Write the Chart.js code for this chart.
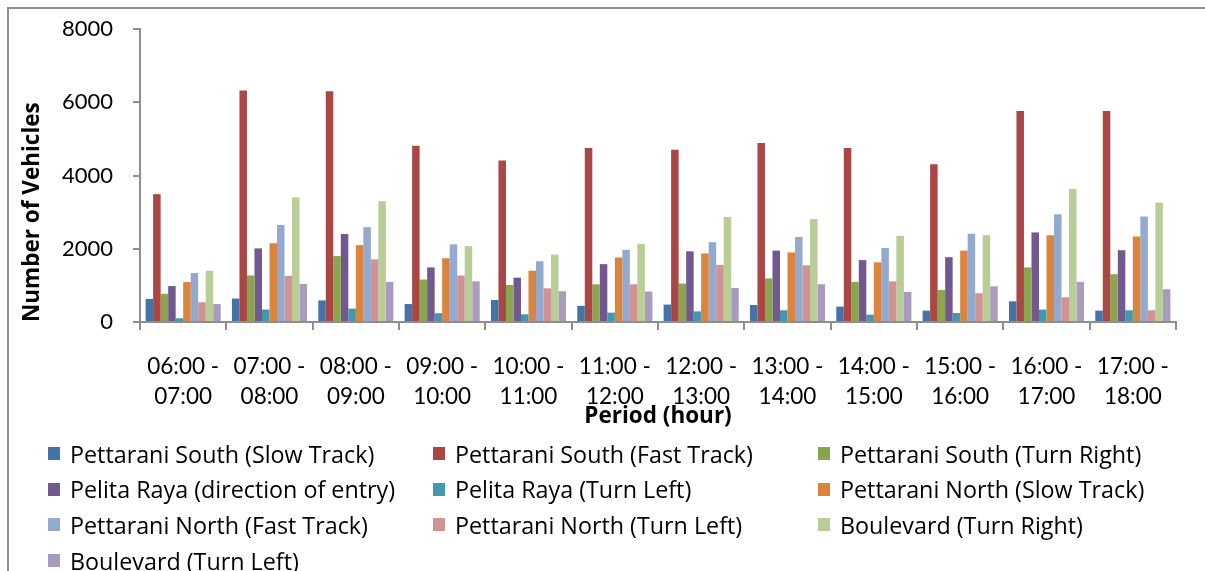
<!DOCTYPE html>
<html>
<head>
<meta charset="utf-8">
<script src="https://cdn.jsdelivr.net/npm/chart.js@4.4.1/dist/chart.umd.min.js"></script>
<style>
  html, body { margin: 0; padding: 0; background: #fff; }
  #wrap { position: relative; width: 1205px; height: 571px; overflow: hidden; }
  #frame { position: absolute; left: 7px; top: 7px; width: 1300px; height: 700px;
           border-top: 2px solid #8e8e8e; border-left: 2px solid #8e8e8e; }
  #chart { position: absolute; left: 0; top: 0; }
  #legend { position: absolute; left: 48px; top: 436px; width: 1150px;
            display: grid; grid-template-columns: 385px 385px 385px; row-gap: 0;
            font-family: "Open Sans", Lato, sans-serif; font-size: 23.3px; color: #000; }
  .item { display: flex; align-items: center; height: 35.6px; white-space: nowrap; }
  .box { width: 12px; height: 13px; margin-right: 10px; flex: none; }
</style>
</head>
<body>
<div id="wrap">
  <div id="frame"></div>
  <canvas id="chart" width="1205" height="571"></canvas>
  <div id="legend"></div>
</div>
<script>
// ---- data ----
const periods = [
  ["06:00 -", "07:00"], ["07:00 -", "08:00"], ["08:00 -", "09:00"], ["09:00 -", "10:00"],
  ["10:00 -", "11:00"], ["11:00 -", "12:00"], ["12:00 -", "13:00"], ["13:00 -", "14:00"],
  ["14:00 -", "15:00"], ["15:00 -", "16:00"], ["16:00 -", "17:00"], ["17:00 -", "18:00"]
];
const seriesNames = [
  "Pettarani South (Slow Track)", "Pettarani South (Fast Track)", "Pettarani South (Turn Right)",
  "Pelita Raya (direction of entry)", "Pelita Raya (Turn Left)", "Pettarani North (Slow Track)",
  "Pettarani North (Fast Track)", "Pettarani North (Turn Left)", "Boulevard (Turn Right)",
  "Boulevard (Turn Left)"
];
const southSlow  = [630, 640, 590, 490, 600, 440, 475, 465, 420, 310, 565, 310];
const southFast  = [3490, 6320, 6300, 4810, 4410, 4750, 4700, 4890, 4750, 4310, 5760, 5760];
const southRight = [770, 1270, 1800, 1160, 1010, 1030, 1050, 1190, 1095, 875, 1490, 1305];
const pelitaEntry = [980, 2010, 2400, 1490, 1210, 1580, 1930, 1950, 1690, 1770, 2445, 1960];
const pelitaLeft = [100, 340, 365, 240, 210, 255, 290, 320, 200, 245, 340, 320];
const northSlow  = [1090, 2150, 2100, 1740, 1400, 1760, 1870, 1900, 1630, 1950, 2370, 2335];
const northFast  = [1340, 2650, 2590, 2120, 1660, 1970, 2180, 2320, 2020, 2410, 2940, 2880];
const northLeft  = [540, 1260, 1710, 1270, 920, 1030, 1560, 1550, 1110, 785, 675, 320];
const boulRight  = [1400, 3400, 3300, 2070, 1840, 2135, 2870, 2810, 2350, 2370, 3630, 3260];
const boulLeft   = [490, 1040, 1095, 1110, 840, 830, 930, 1030, 820, 975, 1095, 895];
const yTicks = [0, 2000, 4000, 6000, 8000];

const seriesData = [southSlow, southFast, southRight, pelitaEntry, pelitaLeft,
                    northSlow, northFast, northLeft, boulRight, boulLeft];
const colors = ["#4572A7", "#AA4643", "#89A54E", "#71588F", "#4198AF",
                "#DB843D", "#93A9CF", "#D19392", "#B9CD96", "#A99BBD"];

const font = "Lato, 'Open Sans', sans-serif";
const titleFont = "'Open Sans', Lato, sans-serif";
const axisGray = "#8e8e8e";

const datasets = seriesNames.map((name, i) => ({
  label: name,
  data: seriesData[i],
  backgroundColor: colors[i],
  borderWidth: 0,
  categoryPercentage: 0.87,
  barPercentage: 1.0
}));

new Chart(document.getElementById("chart"), {
  type: "bar",
  data: { labels: periods, datasets },
  options: {
    responsive: false,
    animation: false,
    layout: { padding: { left: 10, right: 29, top: 29, bottom: 140 } },
    plugins: { legend: { display: false }, tooltip: { enabled: false } },
    scales: {
      x: {
        afterFit: (axis) => { axis.height = 109; },
        grid: { display: true, drawOnChartArea: false, drawTicks: true, tickLength: 8,
                color: axisGray, lineWidth: 2, offset: true },
        border: { color: axisGray, width: 2 },
        ticks: { color: "#000", font: { family: font, size: 22.5, lineHeight: 1.33 },
                 maxRotation: 0, autoSkip: false, padding: 22 },
        title: { display: true, text: "Period (hour)", color: "#000",
                 font: { family: titleFont, size: 22.5, weight: "bold" }, padding: { top: 0, bottom: 1 } }
      },
      y: {
        min: 0, max: 8000,
        afterFit: (axis) => { axis.width = 130; axis.paddingTop = 0; axis.paddingBottom = 0; },
        afterBuildTicks: (axis) => { axis.ticks = yTicks.map(v => ({ value: v })); },
        grid: { display: true, drawOnChartArea: false, drawTicks: true, tickLength: 7,
                color: axisGray, lineWidth: 2 },
        border: { color: axisGray, width: 2 },
        ticks: { color: "#000", font: { family: font, size: 22 }, padding: 20,
                 callback: (v) => String(v) },
        title: { display: true, text: "Number of Vehicles", align: "start", color: "#000",
                 font: { family: titleFont, size: 22.5, weight: "bold" }, padding: { top: 9, bottom: 0 } }
      }
    }
  }
});

// legend in three fixed columns, as in the reference
const legendEl = document.getElementById("legend");
seriesNames.forEach((name, i) => {
  const item = document.createElement("div");
  item.className = "item";
  item.innerHTML = '<span class="box" style="background:' + colors[i] + '"></span><span>' + name + "</span>";
  legendEl.appendChild(item);
});
</script>
</body>
</html>
